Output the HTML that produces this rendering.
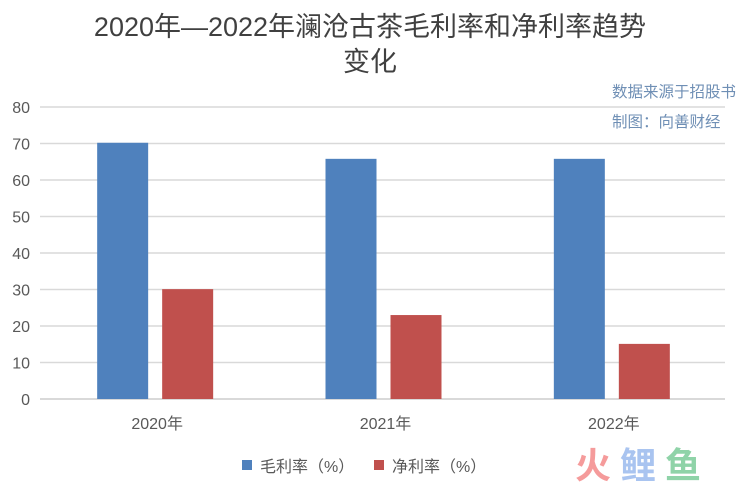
<!DOCTYPE html>
<html><head><meta charset="utf-8"><style>
body{margin:0;background:#fff;}
svg{display:block;font-family:"Liberation Sans","Noto Sans CJK SC",sans-serif;}
</style></head><body>
<svg id="chart" width="742" height="486" viewBox="0 0 742 486">
<text x="370" y="36" text-anchor="middle" font-size="27" fill="#404040">2020年—2022年澜沧古茶毛利率和净利率趋势</text>
<text x="370" y="71" text-anchor="middle" font-size="27" fill="#404040">变化</text>
<text x="612" y="97" font-size="15.5" fill="#6f8fb5">数据来源于招股书</text>
<text x="612" y="127" font-size="15.5" fill="#6f8fb5">制图：向善财经</text>
<g id="grid"></g><g id="bars"></g><g id="xlabels"></g>
<rect x="242" y="460" width="10" height="10" fill="#4f81bd"/>
<text x="260" y="472" font-size="16" fill="#595959">毛利率（%）</text>
<rect x="374" y="460" width="10" height="10" fill="#c0504d"/>
<text x="392" y="472" font-size="16" fill="#595959">净利率（%）</text>
<text x="575" y="478" font-size="36" font-weight="bold" fill="#f59b9b">火</text>
<text x="620" y="478" font-size="36" font-weight="bold" fill="#a9c4f0">鲤</text>
<text x="665" y="478" font-size="36" font-weight="bold" fill="#8fd3a8">鱼</text>
</svg>
<script>
const categories=["2020年","2021年","2022年"];
const grossMargin=[70.2,65.8,65.8];
const netMargin=[30.1,23.0,15.1];
const yTicks=[0,10,20,30,40,50,60,70,80];
const NS="http://www.w3.org/2000/svg";
const x0=40,x1=725,yBase=399,yTop=107,yMax=80;
const y=v=>yBase-(v/yMax)*(yBase-yTop);
const bw=(x1-x0)/categories.length;
function mk(tag,attrs,parent){const e=document.createElementNS(NS,tag);for(const k in attrs)e.setAttribute(k,attrs[k]);parent.appendChild(e);return e;}
const grid=document.getElementById('grid'),bars=document.getElementById('bars'),xl=document.getElementById('xlabels');
yTicks.forEach(t=>{
 const l=mk('line',{x1:x0,x2:x1,y1:y(t),y2:y(t),stroke:'#d9d9d9','stroke-width':t===0?2:1.5},grid);
 
 
 const tx=mk('text',{x:30,y:y(t)+6,'text-anchor':'end','font-size':16,fill:'#595959'},grid);
 tx.textContent=t;
 
 
});
categories.forEach((c,i)=>{
 const cx=x0+bw*(i+0.5);
 const b1=mk('rect',{x:cx-57,y:y(grossMargin[i]),width:51,height:yBase-y(grossMargin[i]),fill:'#4f81bd'},bars);
 
 
 const b2=mk('rect',{x:cx+8,y:y(netMargin[i]),width:51,height:yBase-y(netMargin[i]),fill:'#c0504d'},bars);
 
 
 const t=mk('text',{x:cx+3,y:429,'text-anchor':'middle','font-size':16,fill:'#595959'},xl);
 t.textContent=c;
 
 
});
</script>
</body></html>
